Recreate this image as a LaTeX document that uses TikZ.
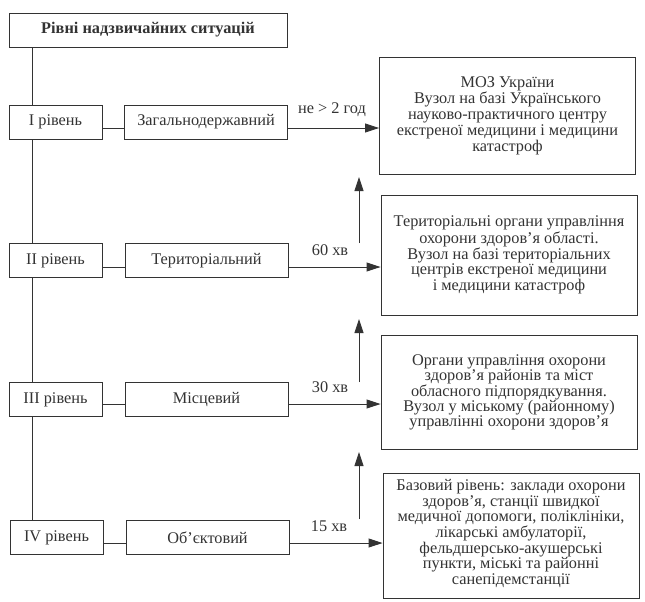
\documentclass[tikz,border=0pt]{standalone}
\usepackage{fontspec}
\setmainfont{Liberation Serif}
\usetikzlibrary{arrows.meta}
\definecolor{ink}{HTML}{333333}
\begin{document}
\begin{tikzpicture}[x=1pt,y=-1pt,
  box/.style={draw=ink, fill=white, line width=0.9pt, inner sep=0pt, text=ink,
    font=\fontsize{16.3}{16}\selectfont, align=center},
  lvl/.style={box, minimum width=93pt, minimum height=34pt},
  kind/.style={box, minimum width=163pt, minimum height=34pt},
  org/.style={box, minimum width=256pt},
  conn/.style={draw=ink, line width=0.9pt},
  arr/.style={conn, -{Triangle[length=14pt,width=9pt]}},
  lbl/.style={text=ink, font=\fontsize{16.3}{16}\selectfont, inner sep=0pt}]
\useasboundingbox[fill=white] (0,0) rectangle (645,602);
% coordinates
\coordinate (r1) at (0,128);
\coordinate (r2) at (0,267);
\coordinate (r3) at (0,404);
\coordinate (r4) at (0,543);
\coordinate (u1a) at (359,243); \coordinate (u1b) at (359,177);
\coordinate (u2a) at (359,382); \coordinate (u2b) at (359,319);
\coordinate (u3a) at (359,519); \coordinate (u3b) at (359,452);
% spine (drawn first, behind boxes)
\coordinate (spt) at (32.5,47);
\coordinate (spb) at (32.5,520);
\draw[conn] (spt) -- (spb);
% nodes
\node[box, minimum width=278pt, minimum height=34pt, font=\bfseries\fontsize{16.3}{16}\selectfont] (title) at (148,30) {Рівні надзвичайних ситуацій};
\node[lvl] (l1) at (55.5,122) {I рівень};
\node[kind] (t1) at (206,122) {Загальнодержавний};
\node[lvl] (l2) at (55.5,260.5) {II рівень};
\node[kind] (t2) at (206.5,260.5) {Територіальний};
\node[lvl] (l3) at (55.5,399.5) {III рівень};
\node[kind] (t3) at (206.5,399.5) {Місцевий};
\node[lvl] (l4) at (56.5,537.5) {IV рівень};
\node[kind] (t4) at (207.5,537.5) {Об’єктовий};
\node[org, minimum height=117pt] (m1) at (507.5,115.5) {МОЗ України\\Вузол на базі Українського\\науково-практичного центру\\екстреної медицини і медицини\\катастроф};
\node[org, minimum height=120pt, font=\fontsize{16.3}{13.8}\selectfont] (m2) at (509,255) {Територіальні органи управління\\охорони здоров’я області.\\Вузол на базі територіальних\\центрів екстреної медицини\\і медицини катастроф};
\node[org, minimum height=114pt, font=\fontsize{16.3}{15}\selectfont] (m3) at (509,392) {Органи управління охорони\\здоров’я районів та міст\\обласного підпорядкування.\\Вузол у міському (районному)\\управлінні охорони здоров’я};
\node[org, minimum height=125pt, font=\fontsize{16.3}{15.7}\selectfont] (m4) at (511,535.5) {Базовий рівень: заклади охорони\\здоров’я, станції швидкої\\медичної допомоги, поліклініки,\\лікарські амбулаторії,\\фельдшерсько-акушерські\\пункти, міські та районні\\санепідемстанції\vspace*{4pt}};
% connectors
\draw[conn] (l1.east |- r1) -- (t1.west |- r1);
\draw[conn] (l2.east |- r2) -- (t2.west |- r2);
\draw[conn] (l3.east |- r3) -- (t3.west |- r3);
\draw[conn] (l4.east |- r4) -- (t4.west |- r4);
\draw[arr] (t1.east |- r1) -- (m1.west |- r1);
\draw[arr] (t2.east |- r2) -- (m2.west |- r2);
\draw[arr] (t3.east |- r3) -- (m3.west |- r3);
\draw[arr] (t4.east |- r4) -- (m4.west |- r4);
\draw[arr] (u1a) -- (u1b);
\draw[arr] (u2a) -- (u2b);
\draw[arr] (u3a) -- (u3b);
% labels
\node[lbl] (k1) at (332,110) {не > 2 год};
\node[lbl] (k2) at (330,250) {60 хв};
\node[lbl] (k3) at (330,387) {30 хв};
\node[lbl] (k4) at (329,526) {15 хв};
\end{tikzpicture}
\end{document}
